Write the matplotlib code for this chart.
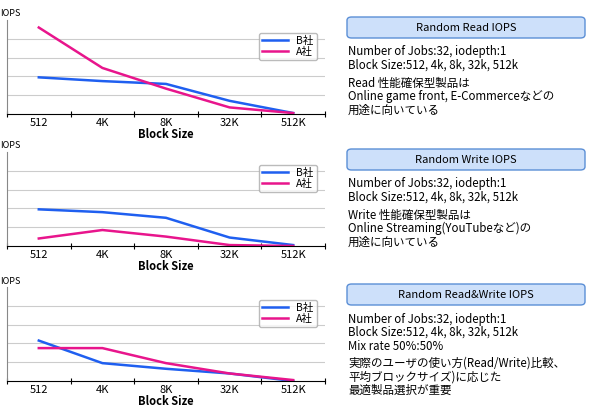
import matplotlib
matplotlib.use("Agg")
import matplotlib.pyplot as plt
from matplotlib.patches import FancyBboxPatch

plt.rcParams['font.family'] = ['Noto Sans CJK JP', 'DejaVu Sans']

sizes = ["512", "4K", "8K", "32K", "512K"]
read_b = [39, 35, 32, 14, 1]
read_a = [92, 49, 27, 7, 1]
write_b = [39, 36, 30, 9, 1]
write_a = [8, 17, 10, 1, 0]
mix_b = [43, 19, 13, 8, 0]
mix_a = [35, 35, 19, 8, 1]

titles = ["Random Read IOPS", "Random Write IOPS", "Random Read&Write IOPS"]
notes = [
    ["Number of Jobs:32, iodepth:1", "Block Size:512, 4k, 8k, 32k, 512k", None,
     "Read 性能確保型製品は", "Online game front, E-Commerceなどの", "用途に向いている"],
    ["Number of Jobs:32, iodepth:1", "Block Size:512, 4k, 8k, 32k, 512k", None,
     "Write 性能確保型製品は", "Online Streaming(YouTubeなど)の", "用途に向いている"],
    ["Number of Jobs:32, iodepth:1", "Block Size:512, 4k, 8k, 32k, 512k",
     "Mix rate 50%:50%", None, "実際のユーザの使い方(Read/Write)比較、",
     "平均ブロックサイズ)に応じた", "最適製品選択が重要"],
]

W, H = 590, 416
fig = plt.figure(figsize=(W / 100, H / 100), dpi=100)

panels = [(read_b, read_a, 20), (write_b, write_a, 152), (mix_b, mix_a, 287)]
for i, (b, a, top) in enumerate(panels):
    ax = fig.add_axes([7 / W, 1 - (top + 94) / H, 318 / W, 94 / H])
    x = range(len(sizes))
    ax.plot(x, b, color="#1f5ff0", lw=1.8, label="B社")
    ax.plot(x, a, color="#e8158c", lw=1.8, label="A社")
    ax.set_xlim(-0.5, 4.5)
    ax.set_ylim(0, 100)
    ax.set_yticks([20, 40, 60, 80])
    ax.tick_params(axis="y", length=0, labelleft=False)
    ax.grid(axis="y", color="#cccccc", lw=0.8)
    ax.set_xticks([-0.5, 0.5, 1.5, 2.5, 3.5, 4.5], minor=False)
    ax.set_xticklabels([])
    ax.set_xticks(list(x), minor=True)
    ax.set_xticklabels(sizes, minor=True, fontsize=8)
    ax.tick_params(axis="x", which="minor", length=0, pad=3)
    ax.tick_params(axis="x", which="major", length=4, direction="inout")
    ax.set_xlabel("Block Size", fontsize=8, labelpad=0, fontweight="bold")
    for s in ["top", "right"]:
        ax.spines[s].set_visible(False)
    ax.spines["left"].set_color("#888888")
    ax.legend(loc="upper right", fontsize=7.5, handlelength=2.5,
              edgecolor="#aaaaaa", borderpad=0.3, labelspacing=0.05,
              fancybox=True, bbox_to_anchor=(0.99, 0.92))
    fig.text(0 / W, 1 - (top - 6) / H, "IOPS", fontsize=6.5, va="center")

    by = top - 3
    box = FancyBboxPatch((347 / W, 1 - (by + 21) / H), 238 / W, 21 / H,
                         boxstyle="round,pad=0,rounding_size=0.008",
                         transform=fig.transFigure, facecolor="#cde0fa",
                         edgecolor="#5b8fd6", lw=1)
    fig.add_artist(box)
    fig.text(466 / W, 1 - (by + 11) / H, titles[i], fontsize=8,
             ha="center", va="center")
    y = by + 35
    for line in notes[i]:
        if line is None:
            y += 4
            continue
        fig.text(348 / W, 1 - y / H, line, fontsize=8.3, va="center")
        y += 13.5

fig.savefig("out.png", dpi=100)
